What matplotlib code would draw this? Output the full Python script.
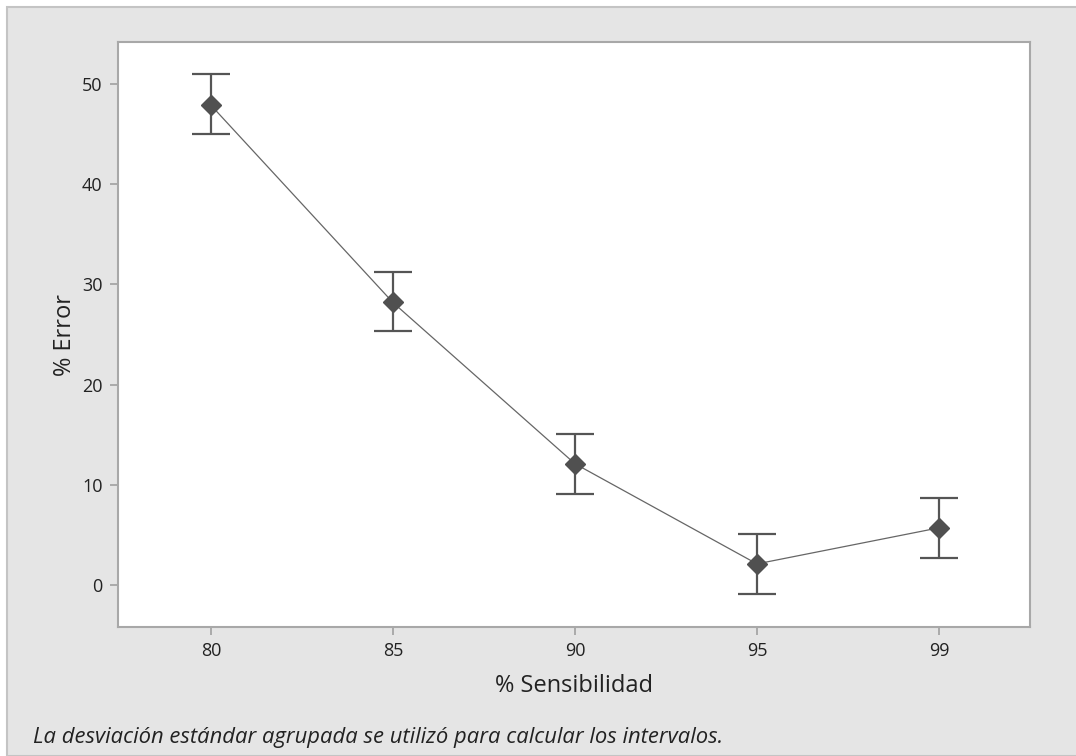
import matplotlib.pyplot as plt
from matplotlib.patches import Rectangle

# data
sensibilidad = ['80', '85', '90', '95', '99']
error_medio = [47.9, 28.2, 12.1, 2.1, 5.7]
ic_inferior = [45.0, 25.3, 9.1, -0.9, 2.7]
ic_superior = [51.0, 31.2, 15.1, 5.1, 8.7]

plt.rcParams['font.family'] = ['Open Sans', 'DejaVu Sans']

W, H = 1076, 756
fig = plt.figure(figsize=(W / 100, H / 100), dpi=100)
fig.patch.set_facecolor('white')
# gray panel behind the plot
fig.patches.append(Rectangle((7 / W, 0), 1, 1 - 7 / H, transform=fig.transFigure,
                             facecolor='#e5e5e5', edgecolor='#c4c4c4', lw=1.5, zorder=-5))

ax = fig.add_axes([118 / W, 1 - 627 / H, (1030 - 118) / W, (627 - 42) / H])
ax.set_zorder(2)
ax.set_facecolor('white')

x = list(range(len(sensibilidad)))
err_lo = [m - lo for m, lo in zip(error_medio, ic_inferior)]
err_hi = [hi - m for m, hi in zip(error_medio, ic_superior)]

ax.errorbar(x, error_medio, yerr=[err_lo, err_hi], fmt='none', ecolor='#555555',
            elinewidth=1.6, capsize=14, capthick=1.6, zorder=2)
ax.plot(x, error_medio, color='#666666', lw=0.9, zorder=3)
ax.plot(x, error_medio, 'D', color='#505050', markersize=10.5, zorder=4)

ax.set_xticks(x)
ax.set_xticklabels(sensibilidad)
ax.set_yticks([0, 10, 20, 30, 40, 50])
ax.set_xlim(-0.51, 4.5)
ax.set_ylim(-4.2, 54.2)

for s in ax.spines.values():
    s.set_color('#a8a8a8')
    s.set_linewidth(1.5)
ax.tick_params(colors='#a0a0a0', labelcolor='#222222', labelsize=13, length=6, width=1.2, pad=5)

ax.set_xlabel('% Sensibilidad', fontsize=17, color='#222222', labelpad=10)
ax.set_ylabel('% Error', fontsize=17, color='#222222', labelpad=4)

fig.text(33 / W, 1 - 737 / H, 'La desviación estándar agrupada se utilizó para calcular los intervalos.',
         fontsize=15.8, style='italic', color='#222222', va='center', ha='left')

fig.savefig('out.png', dpi=100)
